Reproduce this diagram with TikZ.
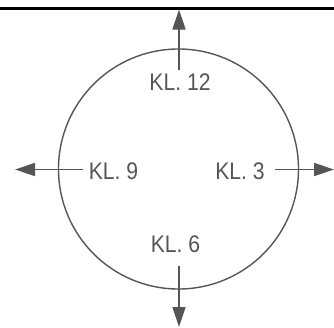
\documentclass[tikz,border=0pt]{standalone}
\usepackage{fontspec}
\setmainfont{Liberation Sans}[FakeStretch=0.88]
\usetikzlibrary{arrows.meta}
\definecolor{drawgray}{HTML}{555555}
\tikzset{
    clocklabel/.style={inner sep=0pt, text=drawgray, font=\fontsize{24}{24}\selectfont},
    clockarrow/.style={drawgray, line width=1.4pt, -{Triangle[length=20pt, width=13pt]}}
}
\begin{document}
\begin{tikzpicture}[x=1pt, y=-1pt]
    \useasboundingbox (0, 0) rectangle (334, 327);

    % edge line on top
    \draw[line width=2.2pt] (0, 8.5) -- (334, 8.5);

    % circle: centre (178.5, 169), r = 120
    \draw[drawgray, line width=1.4pt] (178.5, 169) circle (120);

    % labels
    \node[clocklabel] (kl12) at (180, 82.5) {KL. 12};
    \node[clocklabel] (kl9) at (113.5, 171) {KL. 9};
    \node[clocklabel] (kl3) at (240, 171) {KL. 3};
    \node[clocklabel] (kl6) at (175.5, 244.5) {KL. 6};

    % arrow ends
    \coordinate (top) at (179, 9.5);
    \coordinate (left) at (15, 169.5);
    \coordinate (right) at (334, 169.5);
    \coordinate (bottom) at (179, 327);

    \draw[clockarrow] (kl12.north -| top) ++(0, -3.5) -- (top);
    \draw[clockarrow] (kl9.west |- left) ++(-5.5, 0) -- (left);
    \draw[clockarrow] (kl3.east |- right) ++(10, 0) -- (right);
    \draw[clockarrow] (kl6.south -| bottom) ++(0, 12.5) -- (bottom);
\end{tikzpicture}
\end{document}
